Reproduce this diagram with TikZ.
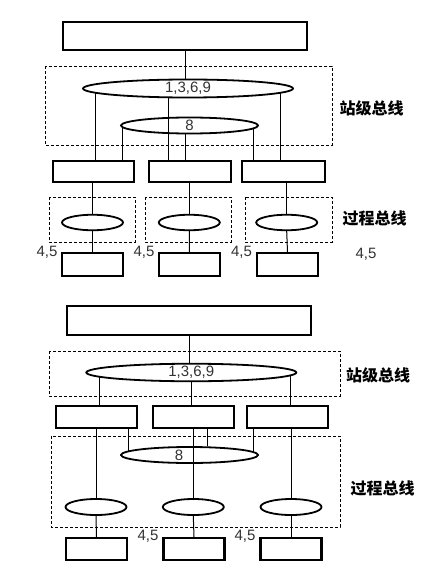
\documentclass[tikz,border=0pt]{standalone}
\usepackage{fontspec}
\setmainfont{Liberation Sans}
\newfontfamily\cjk{Noto Sans CJK SC}
\usetikzlibrary{shapes.geometric}
\tikzstyle{unit}=[rectangle, draw, line width=2.2pt, inner sep=0pt]
\tikzstyle{bus}=[ellipse, draw, line width=1.8pt, inner sep=0pt, text=black!80, font=\fontsize{15}{15}\selectfont]
\tikzstyle{zone}=[draw, line width=0.9pt, dash pattern=on 3pt off 2pt]
\tikzstyle{tag}=[inner sep=0pt, text=black!80, font=\fontsize{15}{15}\selectfont]
\tikzstyle{busname}=[inner sep=0pt, font=\cjk\bfseries\fontsize{16}{16}\selectfont]

\begin{document}
\begin{tikzpicture}[x=1pt, y=-1pt, line width=1pt]
                \useasboundingbox (0,0) rectangle (434,575);
                % upper scheme
                \node[unit, minimum width=244pt, minimum height=28pt] (h1) at (185,36) {};
                \draw[zone] (45,66) rectangle (332,145);
                \node[bus, minimum width=210pt, minimum height=18pt] (sb1) at (188,88.5) {1,3,6,9};
                \node[bus, minimum width=137pt, minimum height=16pt] (gb1) at (189.5,125.5) {8};
                \node[busname] (t1) at (371.5,108) {站级总线};
                \node[unit, minimum width=81pt, minimum height=21pt] (i1) at (93.5,171.5) {};
                \node[unit, minimum width=82pt, minimum height=21pt] (i2) at (190,171.5) {};
                \node[unit, minimum width=83pt, minimum height=21pt] (i3) at (283.5,171.5) {};
                \draw[zone] (49,197) rectangle (135,242);
                \draw[zone] (145,197) rectangle (231,242);
                \draw[zone] (245,197) rectangle (332,242);
                \node[busname] (t2) at (374.5,218) {过程总线};
                \node[bus, minimum width=61pt, minimum height=15.5pt] (p1) at (92.5,222.5) {};
                \node[bus, minimum width=61pt, minimum height=15.5pt] (p2) at (189.3,222.5) {};
                \node[bus, minimum width=61pt, minimum height=15.5pt] (p3) at (286.7,222.5) {};
                \node[unit, minimum width=61pt, minimum height=22.5pt] (m1) at (92.5,264.5) {};
                \node[unit, minimum width=61pt, minimum height=22.5pt] (m2) at (189.5,264.5) {};
                \node[unit, minimum width=61pt, minimum height=22.5pt] (m3) at (287.5,264.5) {};
                \node[tag] (a1) at (47,252) {4,5};
                \node[tag] (a2) at (144,252) {4,5};
                \node[tag] (a3) at (241.5,252) {4,5};
                \node[tag] (a4) at (366,254.5) {4,5};
                \draw (h1.south) -- (h1.south |- sb1.north);
                \draw (sb1.183) -- (sb1.183 |- i1.north);
                \draw (sb1.207.5) -- (sb1.207.5 |- i2.north);
                \draw (sb1.-3) -- (sb1.-3 |- i3.north);
                \draw (gb1.182.5) -- (gb1.182.5 |- i1.north);
                \draw (gb1.248) -- (gb1.248 |- i2.north);
                \draw (gb1.-3.2) -- (gb1.-3.2 |- i3.north);
                \foreach \k in {1,2,3} {
                    \draw (p\k.north) -- (p\k.north |- i\k.south);
                    \draw (p\k.south) -- (m\k.north);
                }
                % lower scheme
                \node[unit, minimum width=244pt, minimum height=29pt] (h2) at (189,320.5) {};
                \draw[zone] (49,351) rectangle (340,396);
                \node[bus, minimum width=210pt, minimum height=17pt] (sb2) at (191.3,372.5) {1,3,6,9};
                \node[busname] (t3) at (378,375) {站级总线};
                \node[unit, minimum width=81pt, minimum height=22pt] (j1) at (96.5,417) {};
                \node[unit, minimum width=81pt, minimum height=22pt] (j2) at (193.5,417) {};
                \node[unit, minimum width=81pt, minimum height=22pt] (j3) at (287.5,417) {};
                \draw[zone] (51,436) rectangle (340,527);
                \node[bus, minimum width=137pt, minimum height=16pt] (gb2) at (189.5,455) {};
                \node[tag] (l8) at (179,455) {8};
                \node[busname] (t4) at (382.5,488) {过程总线};
                \node[bus, minimum width=61pt, minimum height=16pt] (q1) at (96,507) {};
                \node[bus, minimum width=61pt, minimum height=16pt] (q2) at (193.3,507) {};
                \node[bus, minimum width=61pt, minimum height=16pt] (q3) at (291,507) {};
                \node[unit, minimum width=61pt, minimum height=22pt] (n1) at (96.5,549) {};
                \node[unit, minimum width=61pt, minimum height=22pt] (n2) at (194,549) {};
                \node[unit, minimum width=61pt, minimum height=22pt] (n3) at (291,549) {};
                \node[tag] (b1) at (148,536.5) {4,5};
                \node[tag] (b2) at (245,536.5) {4,5};
                \draw (h2.south) -- (h2.south |- sb2.north);
                \draw (sb2.183) -- (sb2.183 |- j1.north);
                \draw (sb2.south) -- (sb2.south |- j2.north);
                \draw (sb2.-2.9) -- (sb2.-2.9 |- j3.north);
                \draw (gb2.176.1) -- (gb2.176.1 |- j1.south);
                \draw (gb2.26.5) -- (gb2.26.5 |- j2.south);
                \draw (gb2.3.6) -- (gb2.3.6 |- j3.south);
                \foreach \k in {1,2,3} {
                    \draw (q\k.north) -- (q\k.north |- j\k.south);
                    \draw (q\k.south) -- (n\k.north);
                }
            \end{tikzpicture}
\end{document}
